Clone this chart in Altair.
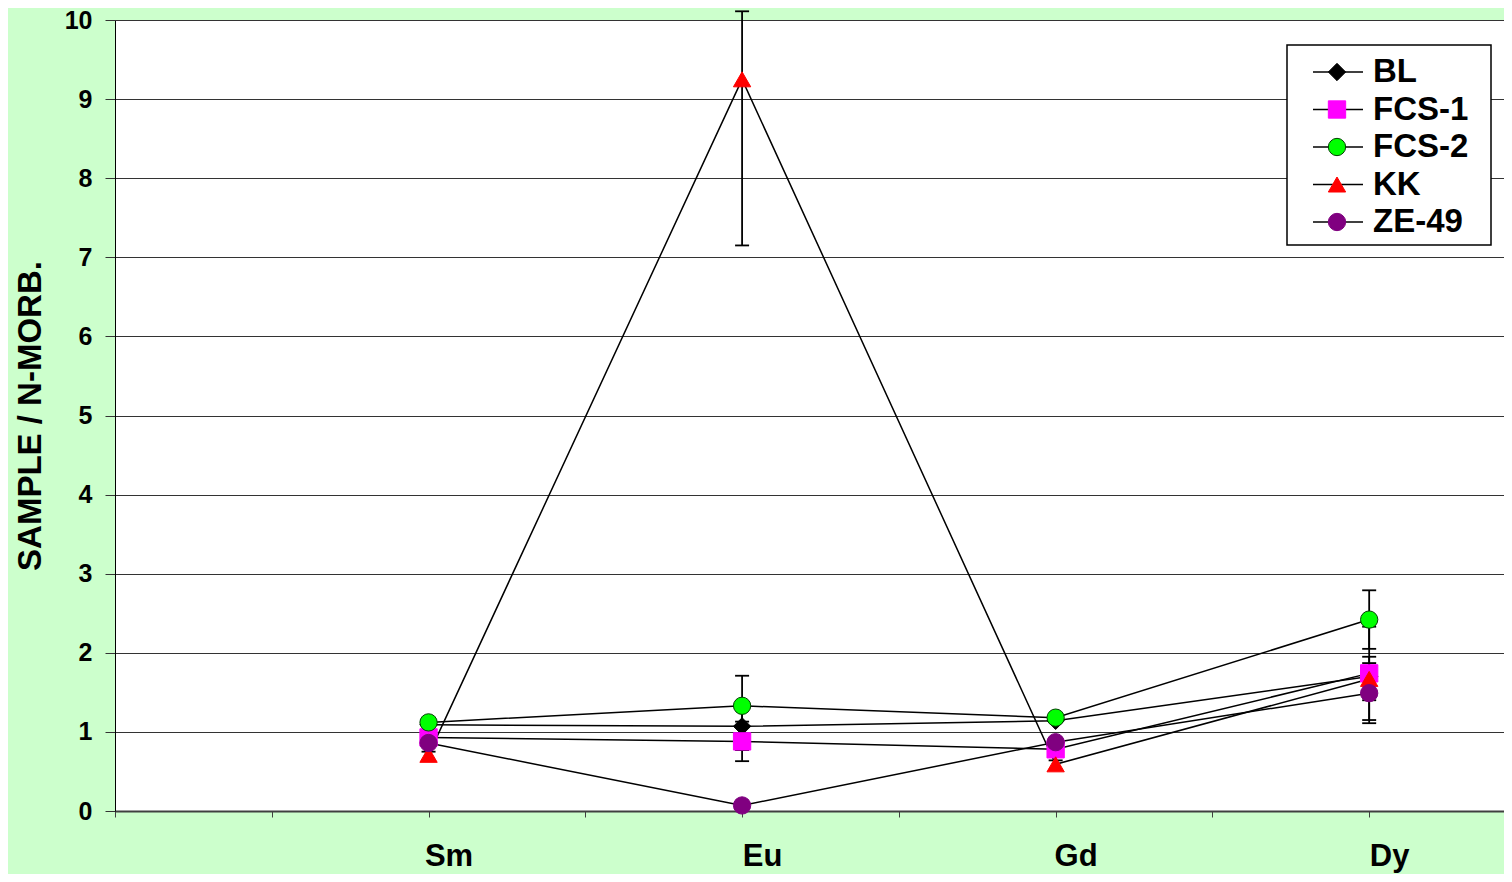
import altair as alt
import pandas as pd

series = ["BL", "FCS-1", "FCS-2", "KK", "ZE-49"]
elements = ["Sm", "Eu", "Gd", "Dy"]
element_pos = [2, 4, 6, 8]

values = {
    "BL":    [1.09, 1.07, 1.14, 1.70],
    "FCS-1": [0.93, 0.88, 0.78, 1.74],
    "FCS-2": [1.12, 1.33, 1.18, 2.42],
    "KK":    [0.71, 9.25, 0.59, 1.67],
    "ZE-49": [0.86, 0.07, 0.87, 1.49],
}
err_low = {
    "BL":    [None, 0.77, None, None],
    "FCS-1": [None, 0.63, 0.64, 1.15],
    "FCS-2": [None, 0.94, None, 2.05],
    "KK":    [None, 7.15, None, 1.40],
    "ZE-49": [0.75, None, None, 1.11],
}
err_high = {
    "BL":    [None, 1.37, None, None],
    "FCS-1": [None, 1.13, 0.92, 2.33],
    "FCS-2": [None, 1.71, None, 2.79],
    "KK":    [None, 10.11, None, 1.95],
    "ZE-49": [0.97, None, None, 1.87],
}

fill_colors = ["#000000", "#FF00FF", "#00FF00", "#FF0000", "#800080"]
stroke_colors = ["#000000", "#FF00FF", "#004000", "#FF0000", "#800080"]
shapes = ["diamond", "square", "circle", "triangle-up", "circle"]
sizes = [300, 300, 220, 330, 250]

FONT = "Liberation Sans"

rows, erows = [], []
for s in series:
    for i, e in enumerate(elements):
        rows.append({"series": s, "element": e, "pos": element_pos[i], "value": values[s][i]})
        if err_low[s][i] is not None:
            erows.append({"series": s, "element": e, "pos": element_pos[i],
                          "lo": err_low[s][i], "hi": err_high[s][i]})
df = pd.DataFrame(rows)
df_err = pd.DataFrame(erows)
leg_df = pd.DataFrame({"series": series})

label_expr = " : ".join(
    f"datum.value == {p} ? '{e}'" for p, e in zip(element_pos, elements)
) + " : ''"

YTITLE = "SAMPLE / N-MORB."
x_scale = alt.Scale(domain=[0, 8.86], nice=False, zero=False)
y_scale = alt.Scale(domain=[0, 10], nice=False)

x_enc = alt.X("pos:Q", scale=x_scale, title=None,
              axis=alt.Axis(values=list(range(0, 9)), labelExpr=label_expr, grid=False,
                            domainColor="#404040", domainWidth=2, tickColor="#404040",
                            tickSize=6, labelFontSize=31, labelPadding=24, labelOffset=20,
                            labelFont=FONT, labelFontWeight="bold", labelColor="black"))
y_enc = alt.Y("value:Q", scale=y_scale, title=YTITLE,
              axis=alt.Axis(values=list(range(0, 11)), format="d", grid=True,
                            gridColor="#333333", gridWidth=1, domainColor="black",
                            domainWidth=1, tickColor="#333333", tickSize=10,
                            labelFontSize=25, labelPadding=13, labelFont=FONT,
                            labelFontWeight="bold", labelColor="black", titleFont=FONT,
                            titleFontSize=33, titleFontWeight="bold", titleColor="black",
                            titlePadding=17))

shape_enc = alt.Shape("series:N", scale=alt.Scale(domain=series, range=shapes), legend=None)
fill_enc = alt.Fill("series:N", scale=alt.Scale(domain=series, range=fill_colors), legend=None)
stroke_enc = alt.Stroke("series:N", scale=alt.Scale(domain=series, range=stroke_colors), legend=None)
size_enc = alt.Size("series:N", scale=alt.Scale(domain=series, range=sizes), legend=None)

lines = alt.Chart(df).mark_line(color="black", strokeWidth=1.5).encode(
    x=x_enc, y=y_enc, detail="series:N", order="pos:Q")

err_rules = alt.Chart(df_err).mark_rule(color="black", strokeWidth=1.8).encode(
    x=alt.X("pos:Q", scale=x_scale, title=None),
    y=alt.Y("lo:Q", scale=y_scale, title=YTITLE), y2="hi:Q")
cap_lo = alt.Chart(df_err).mark_rule(color="black", strokeWidth=1.8, xOffset=-7, x2Offset=7).encode(
    x=alt.X("pos:Q", scale=x_scale, title=None), x2="pos:Q",
    y=alt.Y("lo:Q", scale=y_scale, title=YTITLE))
cap_hi = alt.Chart(df_err).mark_rule(color="black", strokeWidth=1.8, xOffset=-7, x2Offset=7).encode(
    x=alt.X("pos:Q", scale=x_scale, title=None), x2="pos:Q",
    y=alt.Y("hi:Q", scale=y_scale, title=YTITLE))

points = alt.Chart(df).mark_point(filled=True, opacity=1, strokeWidth=1).encode(
    x=x_enc, y=y_enc, shape=shape_enc, fill=fill_enc, stroke=stroke_enc, size=size_enc)

# legend (drawn inside the plot area)
yoff = alt.YOffset("series:N", scale=alt.Scale(type="point", domain=series, range=[0, 150], padding=0))
leg_box = alt.Chart(pd.DataFrame({"k": [0]})).mark_rect(
    fill="white", stroke="black", strokeWidth=1.5).encode(
    x=alt.value(1172), x2=alt.value(1376), y=alt.value(25), y2=alt.value(225))
leg_lines = alt.Chart(leg_df).mark_rule(color="black", strokeWidth=1.5).encode(
    x=alt.value(1198), x2=alt.value(1248), y=alt.value(52), yOffset=yoff)
leg_pts = alt.Chart(leg_df).mark_point(filled=True, opacity=1, strokeWidth=1).encode(
    x=alt.value(1222), y=alt.value(52), yOffset=yoff,
    shape=shape_enc, fill=fill_enc, stroke=stroke_enc, size=size_enc)
leg_text = alt.Chart(leg_df).mark_text(
    align="left", baseline="middle", fontSize=33, fontWeight="bold", font=FONT, color="black").encode(
    x=alt.value(1258), y=alt.value(52), yOffset=yoff, text="series:N")

chart = alt.layer(lines, err_rules, cap_lo, cap_hi, points,
                  leg_box, leg_lines, leg_pts, leg_text).properties(
    width=1389, height=791,
    autosize=alt.AutoSizeParams(type="none"),
    padding={"left": 107, "top": 12, "right": 0, "bottom": 63},
    background="#CCFFCC",
).configure_view(fill="white", stroke=None)

chart.save("out.html", embed_options={"renderer": "svg", "actions": False})
